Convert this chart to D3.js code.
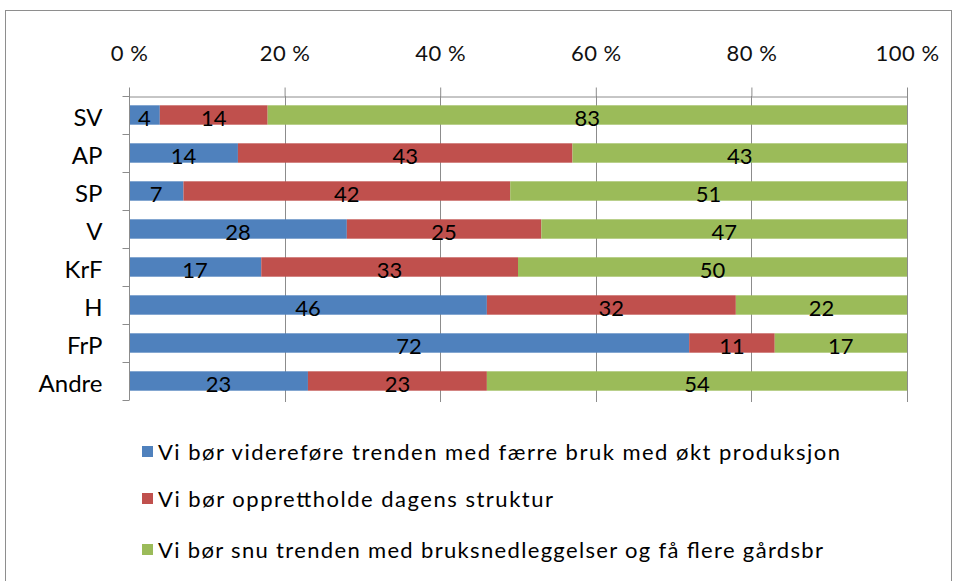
<!DOCTYPE html>
<html><head><meta charset="utf-8">
<script src="https://cdn.jsdelivr.net/npm/d3@7"></script>
<style>
html,body{margin:0;padding:0;background:#fff;}
svg{display:block;}
text{font-family:Lato,"Open Sans",Arial,sans-serif;}
</style></head>
<body><svg id="c" width="955" height="581"></svg>
<script>
const categories = ["SV","AP","SP","V","KrF","H","FrP","Andre"];
const seriesNames = [
  "Vi bør videreføre trenden med færre bruk med økt produksjon",
  "Vi bør opprettholde dagens struktur",
  "Vi bør snu trenden med bruksnedleggelser og få flere gårdsbr"
];
const videreføre = [4,14,7,28,17,46,72,23];
const opprettholde = [14,43,42,25,33,32,11,23];
const snu = [83,43,51,47,50,22,17,54];
const tickValues = [0,0.2,0.4,0.6,0.8,1];
const tickLabels = ["0 %","20 %","40 %","60 %","80 %","100 %"];
const colors = ["#4F81BD","#C0504D","#9BBB59"];

const svg = d3.select("#c");
svg.append("rect").attr("x",5.5).attr("y",10.5).attr("width",946).attr("height",580)
  .attr("fill","none").attr("stroke","#8e8e8e").attr("stroke-width",1);

const x0 = 129, x1 = 907, y0 = 96, y1 = 400;
const x = d3.scaleLinear().domain([0,1]).range([x0,x1]);
const y = d3.scaleBand().domain(categories).range([y0,y1]).paddingInner(0.49).paddingOuter(0.245);
const yb = d3.scaleBand().domain(categories).range([y0,y1]);

const rows = categories.map((c,i)=>({cat:c, s0:videreføre[i], s1:opprettholde[i], s2:snu[i]}));
const stack = d3.stack().keys(["s0","s1","s2"]).offset(d3.stackOffsetExpand);
const layers = stack(rows);

// gridlines
svg.append("g").selectAll("line").data(tickValues.slice(1)).join("line")
  .attr("x1",d=>Math.round(x(d))+0.5).attr("x2",d=>Math.round(x(d))+0.5)
  .attr("y1",y0).attr("y2",y1+2).attr("stroke","#8c8c8c").attr("stroke-width",1);

// bars
layers.forEach((layer,li)=>{
  const g = svg.append("g");
  g.selectAll("rect").data(layer).join("rect")
    .attr("x",d=>x(d[0])).attr("width",d=>x(d[1])-x(d[0]))
    .attr("y",d=>y(d.data.cat)).attr("height",y.bandwidth())
    .attr("fill",colors[li]);
  g.selectAll("text").data(layer).join("text")
    .attr("x",d=>(x(d[0])+x(d[1]))/2).attr("y",d=>y(d.data.cat)+y.bandwidth()/2+2)
    .attr("text-anchor","middle").attr("dominant-baseline","central")
    .attr("font-size",22).attr("fill","#000")
    .text(d=>d.data[layer.key]);
});

// top axis
const xAxis = d3.axisTop(x).tickValues(tickValues).tickSize(9).tickSizeOuter(0)
  .tickFormat((d,i)=>tickLabels[i]);
const gx = svg.append("g").attr("transform",`translate(0,${y0+0.5})`).call(xAxis);
gx.select(".domain").attr("stroke","#8c8c8c");
gx.selectAll(".tick line").attr("stroke","#8c8c8c");
gx.selectAll(".tick text").attr("font-size",22).attr("fill","#111").attr("y",-43)
  .attr("dy","0.35em").attr("letter-spacing","0.5px")
  .style("font-family",'Lato,"Open Sans",Arial,sans-serif');

// left axis
const gy = svg.append("g").attr("transform",`translate(${x0+0.5},0)`);
gy.append("line").attr("x1",0).attr("x2",0).attr("y1",y0).attr("y2",y1).attr("stroke","#8c8c8c");
const bounds = categories.map(c=>yb(c)).concat([y1]);
gy.selectAll("line.t").data(bounds).join("line").attr("class","t")
  .attr("x1",-7).attr("x2",0).attr("y1",d=>Math.round(d)+0.5).attr("y2",d=>Math.round(d)+0.5)
  .attr("stroke","#8c8c8c");
gy.selectAll("text").data(categories).join("text")
  .attr("x",-27).attr("y",d=>y(d)+y.bandwidth()/2+1)
  .attr("text-anchor","end").attr("dominant-baseline","central")
  .attr("font-size",24).attr("fill","#000").text(d=>d);

// legend
const legY = [450,497,548];
const legLen = [682,395,665];
const lg = svg.append("g");
seriesNames.forEach((n,i)=>{
  lg.append("rect").attr("x",142).attr("y",legY[i]-4).attr("width",11).attr("height",11).attr("fill",colors[i]);
  lg.append("text").attr("x",158).attr("y",legY[i]+1).attr("dominant-baseline","central")
    .attr("font-size",22).attr("fill","#000")
    .attr("textLength",legLen[i]).attr("lengthAdjust","spacing").text(n);
});
</script></body></html>
